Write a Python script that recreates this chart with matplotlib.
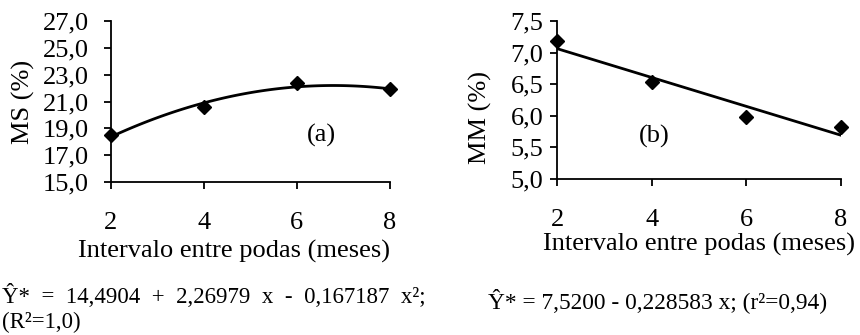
import numpy as np
import matplotlib
matplotlib.use('Agg')
import matplotlib.pyplot as plt
from matplotlib.ticker import FuncFormatter

plt.rcParams['font.family'] = ['Liberation Serif', 'DejaVu Serif']

# intervalo entre podas (meses)
meses = [2, 4, 6, 8]
ms_vals = [18.5, 20.6, 22.4, 21.9]
mm_vals = [7.18, 6.53, 5.98, 5.82]

# coeficientes das equacoes ajustadas
ms_coef = [14.4904, 2.26979, -0.167187]
mm_coef = [7.5200, -0.228583]

eq_a1 = 'Ŷ*  =  14,4904  +  2,26979  x  -  0,167187  x²;'
eq_a2 = '(R²=1,0)'
eq_b = 'Ŷ* = 7,5200 - 0,228583 x; (r²=0,94)'

fs = 19

def virgula(v, pos):
    return f'{v:.1f}'.replace('.', ',')

fig = plt.figure(figsize=(8.6, 3.35), dpi=100)
ax1 = fig.add_axes([0.129, 0.457, 0.324, 0.48])
ax2 = fig.add_axes([0.648, 0.466, 0.330, 0.471])

xs = np.linspace(2, 8, 100)
fit_a = ms_coef[0] + ms_coef[1] * xs + ms_coef[2] * xs**2
fit_b = mm_coef[0] + mm_coef[1] * xs

for ax, vals, fit, ylim, yticks, ylabel, ypad in [
        (ax1, ms_vals, fit_a, (15, 27), np.arange(15, 27.1, 2), 'MS (%)', 11),
        (ax2, mm_vals, fit_b, (5, 7.5), np.arange(5, 7.51, 0.5), 'MM (%)', 5)]:
    ax.plot(xs, fit, color='black', lw=2, zorder=2)
    ax.plot(meses, vals, 'D', color='black', ms=7.5, clip_on=False, zorder=3)
    ax.set_xlim(2, 8)
    ax.set_ylim(*ylim)
    ax.set_xticks(meses)
    ax.set_yticks(yticks)
    ax.yaxis.set_major_formatter(FuncFormatter(virgula))
    ax.spines['top'].set_visible(False)
    ax.spines['right'].set_visible(False)
    ax.spines['left'].set_linewidth(1.3)
    ax.spines['bottom'].set_linewidth(1.3)
    ax.tick_params(direction='out', length=5, width=1.3, labelsize=fs)
    ax.tick_params(axis='x', pad=17)
    ax.tick_params(axis='y', pad=ypad)
    ax.set_ylabel(ylabel, fontsize=fs)
    ax.set_xlabel('Intervalo entre podas (meses)', fontsize=fs, labelpad=0)

ax1.yaxis.set_label_coords(-0.272, 0.5)
ax2.yaxis.set_label_coords(-0.229, 0.39)
ax1.xaxis.set_label_coords(0.44, -0.36)
ax2.xaxis.set_label_coords(0.50, -0.34)

ax1.text(6.54, 18.5, '(a)', fontsize=fs, ha='center', va='center')
ax2.text(4.05, 5.67, '(b)', fontsize=fs, ha='center', va='center')

fig.text(0.002, 0.0955, eq_a1, fontsize=16.5, ha='left', va='baseline')
fig.text(0.002, 0.021, eq_a2, fontsize=16.5, ha='left', va='baseline')
fig.text(0.567, 0.081, eq_b, fontsize=16.8, ha='left', va='baseline')

fig.savefig('out.png', dpi=100)
